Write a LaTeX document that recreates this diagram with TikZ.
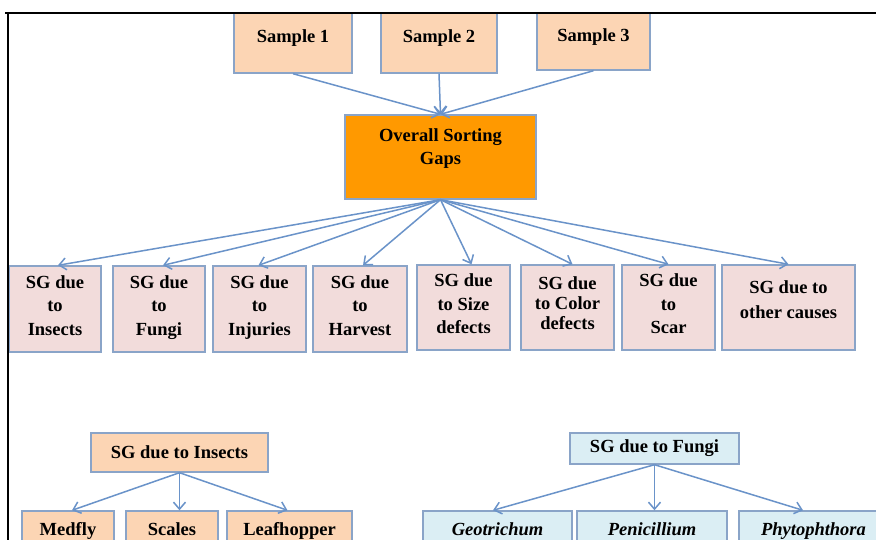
\documentclass[tikz,border=0pt]{standalone}
\usepackage{fontspec}
\setmainfont{Liberation Serif}
\usetikzlibrary{arrows.meta}
\definecolor{peach}{HTML}{FCD5B4}
\definecolor{orng}{HTML}{FF9900}
\definecolor{pinkc}{HTML}{F2DCDB}
\definecolor{lblue}{HTML}{DBEEF4}
\definecolor{bordc}{HTML}{8AA4C8}
\definecolor{arrc}{HTML}{6A93C9}
\tikzset{
  box/.style={draw=bordc, line width=1.4pt, inner sep=0pt, align=center,
    font=\bfseries\fontsize{18.5}{23.5}\selectfont},
  lbl/.style={inner sep=0pt, align=center, font=\bfseries\fontsize{18.5}{23.5}\selectfont},
  samp/.style={box, fill=peach, minimum height=60pt, text height=13pt, text depth=13pt},
  pbox/.style={box, fill=pinkc, minimum height=86pt,
    execute at begin node=\strut, execute at end node=\strut},
  sbox/.style={box, minimum height=40pt, execute at begin node=\strut},
  arr/.style={draw=arrc, line width=1.5pt, -{Straight Barb[length=7pt,width=12pt]}}
}
\begin{document}
\begin{tikzpicture}[x=1pt,y=-1pt]
\useasboundingbox (0,0) rectangle (876,540);
\clip (0,0) rectangle (876,540);
\fill[white] (0,0) rectangle (876,540);
% top samples
\node[samp, minimum width=118pt] (s1) at (293,43) {Sample 1};
\node[samp, minimum width=116pt] (s2) at (439,43) {Sample 2};
\node[samp, minimum width=113pt, minimum height=57pt] (s3) at (593.5,41.5) {Sample 3};
% overall
\node[box, fill=orng, minimum width=191pt, minimum height=84pt] (ov) at (440.5,157) {};
\node[lbl] (ovt) at ([yshift=8.5pt]ov.center) {Overall Sorting\\Gaps};
% second row
\node[pbox, minimum width=92pt] (p1) at (55,309) {SG due\\to\\Insects};
\node[pbox, minimum width=92pt] (p2) at (159,309) {SG due\\to\\Fungi};
\node[pbox, minimum width=93pt] (p3) at (259.5,309) {SG due\\to\\Injuries};
\node[pbox, minimum width=94pt] (p4) at (360,309) {SG due\\to\\Harvest};
\node[pbox, minimum width=93pt, minimum height=85pt] (p5) at (463.5,307.5) {SG due\\to Size\\defects};
\node[box, fill=pinkc, minimum width=93pt, minimum height=85pt] (p6) at (567.5,307.5) {};
\node[lbl, font=\bfseries\fontsize{18.5}{20}\selectfont] (p6t) at ([yshift=4.5pt]p6.center) {SG due\\to Color\\defects};
\node[pbox, minimum width=93pt, minimum height=85pt] (p7) at (668.5,307.5) {SG due\\to\\Scar};
\node[box, fill=pinkc, minimum width=133pt, minimum height=85pt] (p8) at (788.5,307.5) {};
\node[lbl, font=\bfseries\fontsize{18.5}{25}\selectfont] (p8t) at ([yshift=8pt]p8.center) {SG due to\\other causes};
% frame
\draw[line width=1.8pt] (5,13) -- (876,13);
\draw[line width=1.8pt] (8,13) -- (8,540);
% arrows top
\draw[arr] (s1.south) -- (ov.north);
\draw[arr] (s2.south) -- (ov.north);
\draw[arr] (s3.south) -- (ov.north);
\draw[arr] (ov.south) -- ([xshift=3pt]p1.north);
\draw[arr] (ov.south) -- ([xshift=4pt]p2.north);
\draw[arr] (ov.south) -- ([xshift=-1pt]p3.north);
\draw[arr] (ov.south) -- ([xshift=3pt]p4.north);
\draw[arr] (ov.south) -- ([xshift=8pt]p5.north);
\draw[arr] (ov.south) -- ([xshift=5pt]p6.north);
\draw[arr] (ov.south) -- (p7.north);
\draw[arr] (ov.south) -- (p8.north);
% bottom left
\node[box, fill=peach, minimum width=177pt, minimum height=39pt] (ins) at (179.5,452.5) {SG due to Insects};
\node[sbox, fill=peach, minimum width=92pt] (med) at (68,531) {Medfly};
\node[sbox, fill=peach, minimum width=92pt] (sca) at (172,531) {Scales};
\node[sbox, fill=peach, minimum width=125pt] (lea) at (289.5,531) {Leafhopper};
\draw[arr] (ins.south) -- ([xshift=4pt]med.north);
\draw[arr] (ins.south) -- (ins.south |- sca.north);
\draw[arr] (ins.south) -- ([xshift=-2pt]lea.north);
% bottom right
\node[box, fill=lblue, minimum width=169pt, minimum height=31pt] (fun) at (654.5,448.5) {SG due to Fungi};
\node[sbox, fill=lblue, minimum width=149pt] (geo) at (497.5,531) {\textit{Geotrichum}};
\node[sbox, fill=lblue, minimum width=150pt] (pen) at (652,531) {\textit{Penicillium}};
\node[sbox, fill=lblue, minimum width=149pt] (phy) at (813.5,531) {\textit{Phytophthora}};
\draw[arr] (fun.south) -- ([xshift=-4.5pt]geo.north);
\draw[arr] (fun.south) -- (fun.south |- pen.north);
\draw[arr] (fun.south) -- ([xshift=-10.5pt]phy.north);
\end{tikzpicture}
\end{document}
